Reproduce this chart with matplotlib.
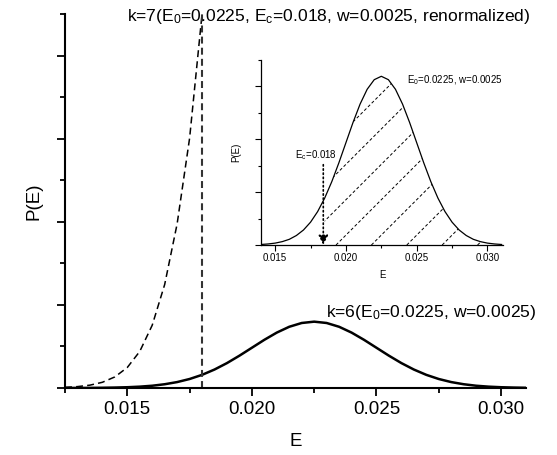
import numpy as np
import matplotlib.pyplot as plt
from matplotlib.ticker import MultipleLocator

plt.rcParams['font.family'] = ['Liberation Sans', 'DejaVu Sans']
plt.rcParams['mathtext.default'] = 'regular'
plt.rcParams['lines.scale_dashes'] = False

# energy grid (step 0.0005)
energy = [0.0125, 0.0130, 0.0135, 0.0140, 0.0145, 0.0150, 0.0155, 0.0160,
          0.0165, 0.0170, 0.0175, 0.0180, 0.0185, 0.0190, 0.0195, 0.0200,
          0.0205, 0.0210, 0.0215, 0.0220, 0.0225, 0.0230, 0.0235, 0.0240,
          0.0245, 0.0250, 0.0255, 0.0260, 0.0265, 0.0270, 0.0275, 0.0280,
          0.0285, 0.0290, 0.0295, 0.0300, 0.0305, 0.0310]
# k=6: E0=0.0225, w=0.0025
p_k6 = [0.05, 0.1, 0.2, 0.5, 1.0, 1.8, 3.2, 5.4,
        9.0, 14.2, 21.6, 31.6, 44.4, 59.9, 77.7, 96.8,
        115.9, 133.3, 147.3, 156.4, 159.6, 156.4, 147.3, 133.3,
        115.9, 96.8, 77.7, 59.9, 44.4, 31.6, 21.6, 14.2,
        9.0, 5.4, 3.2, 1.8, 1.0, 0.5]
# k=7: renormalized, cut at Ec
energy_k7 = [0.0125, 0.0130, 0.0135, 0.0140, 0.0145, 0.0150, 0.0155, 0.0160,
             0.0165, 0.0170, 0.0175, 0.0180]
p_k7 = [1.5, 3.3, 6.8, 13.7, 26.6, 49.3, 88.0, 151.0, 249.0, 395.0, 601.0, 900.0]

ec = 0.018
ec_arrow = 0.0184   # where the arrow sits in the inset
ec_mark_top = 76    # top of the dotted marker line

fig = plt.figure(figsize=(5.57, 4.55), dpi=100)
ax = fig.add_axes([0.1167, 0.1473, 0.8276, 0.8219])

ax.plot(energy, p_k6, color='black', lw=1.8)
ax.plot(energy_k7, p_k7, color='black', lw=1.1, dashes=(5, 3))
ax.axvline(ec, color='#333333', lw=1.5, dashes=(5, 3))

ax.set_xlim(0.0125, 0.031)
ax.set_ylim(0, 900)
ax.xaxis.set_major_locator(MultipleLocator(0.005))
ax.xaxis.set_minor_locator(MultipleLocator(0.0025))
ax.yaxis.set_major_locator(MultipleLocator(200))
ax.yaxis.set_minor_locator(MultipleLocator(100))
ax.xaxis.set_major_formatter(plt.FormatStrFormatter('%.3f'))
ax.tick_params(which='both', direction='out', width=1.3, labelsize=13.5)
ax.tick_params(which='major', length=6)
ax.tick_params(which='minor', length=3.5)
ax.tick_params(axis='y', labelleft=False)
for s in ['top', 'right']:
    ax.spines[s].set_visible(False)
for s in ['left', 'bottom']:
    ax.spines[s].set_linewidth(1.5)
ax.set_xlabel('E', fontsize=13.5, labelpad=11)
ax.set_ylabel('P(E)', fontsize=13.5, labelpad=9)

ax.text(0.01498, 884, r'k=7(E$_0$=0.0225, E$_c$=0.018, w=0.0025, renormalized)',
        fontsize=12.6, va='baseline')
ax.text(0.02298, 171, r'k=6(E$_0$=0.0225, w=0.0025)', fontsize=12.6, va='baseline')

# inset
ax_in = fig.add_axes([0.4686, 0.4615, 0.4345, 0.4066])
ax_in.plot(energy, p_k6, color='black', lw=0.9)
ax_in.set_xlim(0.014, 0.0311)
ax_in.set_ylim(0, 175)

# dashed hatching under the curve right of Ec
e_arr = np.array(energy)
p_arr = np.array(p_k6)
mask = e_arr >= ec_arrow
poly = ax_in.fill_between(e_arr[mask], 0, p_arr[mask], facecolor='none', edgecolor='none')
clip = poly.get_paths()[0]
bbox = ax_in.get_position()
w_px = bbox.width * fig.get_figwidth() * fig.dpi
h_px = bbox.height * fig.get_figheight() * fig.dpi
x0, x1 = ax_in.get_xlim()
y0, y1 = ax_in.get_ylim()
slope = (w_px / (x1 - x0)) / (h_px / (y1 - y0))  # 45 degrees on screen
for start in np.arange(0.0193 - 4 * 0.0025, 0.031, 0.0025):
    xs = np.array([start, start + 0.03])
    ln, = ax_in.plot(xs, (xs - start) * slope, color='black', lw=0.7, dashes=(2.2, 1.6))
    ln.set_clip_path(clip, ax_in.transData)

ax_in.annotate('', xy=(ec_arrow, 0), xytext=(ec_arrow, ec_mark_top),
               arrowprops=dict(arrowstyle='-|>', color='black', lw=1.2,
                               linestyle=(0, (1, 2)), mutation_scale=14,
                               shrinkA=0, shrinkB=0))
ax_in.text(ec_arrow + 0.001, ec_mark_top + 3, r'E$_c$=0.018', fontsize=7,
           ha='right', va='bottom')
ax_in.text(0.0243, 153, r'E$_0$=0.0225, w=0.0025', fontsize=7, va='baseline')

ax_in.xaxis.set_major_locator(MultipleLocator(0.005))
ax_in.xaxis.set_minor_locator(MultipleLocator(0.0025))
ax_in.yaxis.set_major_locator(MultipleLocator(50))
ax_in.yaxis.set_minor_locator(MultipleLocator(25))
ax_in.xaxis.set_major_formatter(plt.FormatStrFormatter('%.3f'))
ax_in.tick_params(which='both', direction='out', width=0.8, labelsize=7, pad=2)
ax_in.tick_params(which='major', length=4)
ax_in.tick_params(which='minor', length=2.5)
ax_in.tick_params(axis='y', labelleft=False)
for s in ['top', 'right']:
    ax_in.spines[s].set_visible(False)
for s in ['left', 'bottom']:
    ax_in.spines[s].set_linewidth(0.9)
ax_in.set_xlabel('E', fontsize=7, labelpad=5)
ax_in.set_ylabel('P(E)', fontsize=7, labelpad=10)

plt.savefig('out.png', dpi=100)
